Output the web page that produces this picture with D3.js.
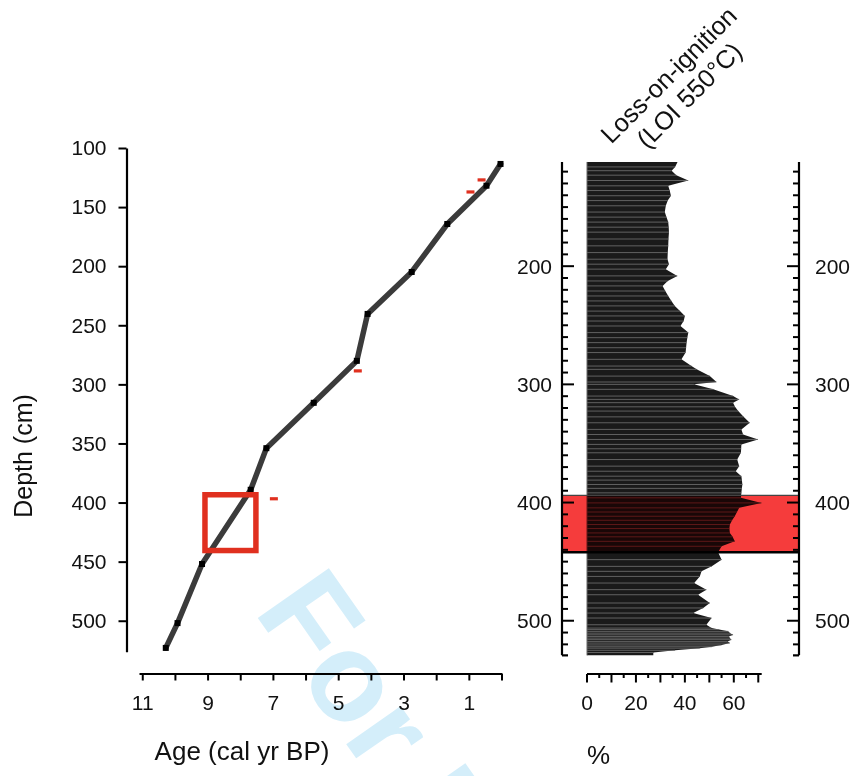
<!DOCTYPE html>
<html><head><meta charset="utf-8">
<script src="https://cdn.jsdelivr.net/npm/d3@7"></script>
<style>
html,body{margin:0;padding:0;background:#fff;}
svg{display:block;font-family:"Liberation Sans",Arial,Helvetica,sans-serif;}
</style>
</head><body>
<svg id="c" width="859" height="776"></svg>
<script>
// ---------- DATA ----------
// Age-depth model (control points)
const ageKyr   = [0.03, 0.46, 1.66, 2.75, 4.10, 4.43, 5.75, 7.20, 7.68, 9.17, 9.92, 10.28];
const ageDepth = [113.5, 131.9, 164.3, 204.9, 240.4, 280.1, 315.6, 354.0, 389.2, 452.0, 502.0, 523.0];
// Red dashes (rejected / outlier dates)
const redDashAge   = [0.61, 0.95, 4.40, 6.97];
const redDashDepth = [127.0, 137.2, 288.6, 396.8];
// Highlighted box (age range, depth range)
const boxAge   = [9.08, 7.52];
const boxDepth = [393.4, 440.6];
// Loss-on-ignition profile
const loiDepth = [111.8,116,119.2,123,127.5,132,136,140.4,144.5,148.9,154.2,158.5,162.7,167,171.2,177,182.8,188.5,194.1,198.3,
  202.5,208.2,212.5,216.7,221,225.2,229.4,233.6,238,242.1,246.4,250.6,256.2,260.5,264.7,269,273.1,278.8,284.5,287.3,
  293,298,300,304.2,309.9,312.7,315.5,319,322.6,327.5,332.5,338.1,342.4,346.6,350.8,354.5,357.9,363.6,369.2,373.5,
  377.7,381,384.7,388,391.8,396,400.3,404.5,408,411.6,415,418.6,422,425.7,429,432.8,437,442.1,448.3,454,
  458.2,462.5,468.1,473.7,478,485,489.2,493.5,497.7,503.4,506.2,507.5,509,510.5,511.9,513.3,514.7,516,517.5,518.9,
  520.5,522,523.2,525,526.9,529.3];
const loiValue = [37.0,36.0,34.6,36.5,41.4,33.2,33.8,34.3,33.0,32.2,31.8,32.5,33.2,33.4,33.5,33.3,33.2,33.0,32.9,33.5,
  32.2,36.9,33.0,30.9,32.0,33.2,34.5,35.9,38.0,40.0,39.5,38.2,41.4,41.0,40.7,40.5,40.3,38.6,42.7,44.8,
  50.2,52.9,43.7,51.6,59.7,62.2,59.7,60.5,61.8,64.0,66.5,63.1,63.8,69.9,63.1,63.0,62.9,61.4,62.2,60.8,
  63.1,63.3,63.5,63.3,63.1,62.9,71.3,62.2,61.3,60.4,59.3,58.4,58.2,58.4,59.5,60.4,55.0,53.6,55.0,51.0,
  46.8,46.1,43.8,48.8,45.4,50.2,47.5,43.4,50.9,48.8,50.9,54.0,57.7,58.5,59.7,58.0,58.4,59.0,57.5,58.4,
  55.0,51.0,46.1,36.0,27.1,27.1];
const bandDepth = [394, 442];
// Tick values / labels
const depthTicksLeft   = [100,150,200,250,300,350,400,450,500];
const ageTicks         = [0,1,2,3,4,5,6,7,8,9,10,11];
const ageLabels        = [11,9,7,5,3,1];
const loiTicks         = [0,5,10,15,20,25,30,35,40,45,50,55,60,65,70];
const loiLabels        = [0,20,40,60];
const depthTicksRight  = d3.range(120, 530, 10);
const depthLabelsRight = [200,300,400,500];

// ---------- LAYOUT ----------
const FONT = '"Liberation Sans",Arial,Helvetica,sans-serif';
const leftAxisX = 126.5, ageAxisY = 673.5;
const rpLeft = 562, rpRight = 799, loiAxisY = 674;
const redStroke = "#e0301f";

const svg = d3.select("#c");

const y = d3.scaleLinear().domain([100, 526.2]).range([148, 651.7]);
const xAge = d3.scaleLinear().domain([11.1, 0]).range([139, 501.5]);
const xLoi = d3.scaleLinear().domain([0, 71.4]).range([587, 761.7]);

// ---------- WATERMARK ----------
svg.append("text")
  .attr("transform", "translate(253,611) rotate(55)")
  .attr("font-family", FONT).attr("font-weight", "bold").attr("font-size", 126)
  .attr("fill", "#d4eefa")
  .text("For Review");

// ---------- LEFT PANEL ----------
const gY = svg.append("g").attr("transform", `translate(${leftAxisX},0)`)
  .call(d3.axisLeft(y).tickValues(depthTicksLeft).tickSize(8).tickSizeOuter(0).tickPadding(12));
gY.select(".domain").attr("stroke", "#000").attr("stroke-width", 2.2);
gY.selectAll(".tick line").attr("stroke", "#000").attr("stroke-width", 2);
gY.selectAll(".tick text").attr("font-size", 21).attr("font-family", FONT).attr("fill", "#111");

const gX = svg.append("g").attr("transform", `translate(0,${ageAxisY})`)
  .call(d3.axisBottom(xAge).tickValues(ageTicks).tickSize(7).tickSizeOuter(0).tickPadding(14.5)
    .tickFormat(d => ageLabels.includes(d) ? d : ""));
gX.select(".domain").attr("stroke", "#000").attr("stroke-width", 2.2);
gX.selectAll(".tick line").attr("stroke", "#000").attr("stroke-width", 2);
gX.selectAll(".tick text").attr("font-size", 21).attr("font-family", FONT).attr("fill", "#111");

const pts = ageKyr.map((a, i) => [a, ageDepth[i]]);
svg.append("path").datum(pts)
  .attr("d", d3.line().x(d => xAge(d[0])).y(d => y(d[1])))
  .attr("fill", "none").attr("stroke", "#3b3b3b").attr("stroke-width", 5.5)
  .attr("stroke-linejoin", "round").attr("stroke-linecap", "round");
svg.selectAll("rect.mk").data(pts).join("rect").attr("class", "mk")
  .attr("x", d => xAge(d[0]) - 3).attr("y", d => y(d[1]) - 3)
  .attr("width", 6).attr("height", 6).attr("fill", "#000");

svg.selectAll("rect.rd").data(redDashAge.map((a, i) => [a, redDashDepth[i]])).join("rect").attr("class", "rd")
  .attr("x", d => xAge(d[0]) - 4).attr("y", d => y(d[1]) - 1.6)
  .attr("width", 8).attr("height", 3.2).attr("fill", redStroke);

svg.append("rect")
  .attr("x", xAge(boxAge[0])).attr("y", y(boxDepth[0]))
  .attr("width", xAge(boxAge[1]) - xAge(boxAge[0])).attr("height", y(boxDepth[1]) - y(boxDepth[0]))
  .attr("fill", "none").attr("stroke", redStroke).attr("stroke-width", 5.5);

svg.append("text").attr("transform", `translate(32,456) rotate(-90)`)
  .attr("text-anchor", "middle").attr("font-family", FONT).attr("font-size", 25).attr("fill", "#111")
  .text("Depth (cm)");
svg.append("text").attr("x", 242).attr("y", 760)
  .attr("text-anchor", "middle").attr("font-family", FONT).attr("font-size", 26).attr("fill", "#111")
  .text("Age (cal yr BP)");

// ---------- RIGHT PANEL ----------
const loi = loiDepth.map((d, i) => ({d, v: loiValue[i]}));
svg.append("path").datum(loi)
  .attr("d", d3.area().y(p => y(p.d)).x0(xLoi(0)).x1(p => xLoi(p.v)))
  .attr("fill", "#1a1a1a");
svg.selectAll("line.bar").data(loi.slice(1, -1)).join("line").attr("class", "bar")
  .attr("x1", xLoi(0)).attr("x2", p => xLoi(p.v))
  .attr("y1", p => y(p.d)).attr("y2", p => y(p.d))
  .attr("stroke", "#6a6a6a").attr("stroke-width", 0.9);
svg.append("line")
  .attr("x1", xLoi(0)).attr("x2", xLoi(0))
  .attr("y1", y(loiDepth[0])).attr("y2", y(loiDepth[loiDepth.length - 1]))
  .attr("stroke", "#666").attr("stroke-width", 1);

svg.append("rect")
  .attr("x", rpLeft).attr("width", rpRight - rpLeft)
  .attr("y", y(bandDepth[0])).attr("height", y(bandDepth[1]) - y(bandDepth[0]))
  .attr("fill", "#f53c3c").style("mix-blend-mode", "multiply");
svg.append("line").attr("x1", rpLeft).attr("x2", rpRight)
  .attr("y1", y(bandDepth[0])).attr("y2", y(bandDepth[0]))
  .attr("stroke", "#444").attr("stroke-width", 1.2);
svg.append("line").attr("x1", rpLeft).attr("x2", rpRight)
  .attr("y1", y(bandDepth[1])).attr("y2", y(bandDepth[1]))
  .attr("stroke", "#000").attr("stroke-width", 2.5);

const yTop = y(loiDepth[0]), yBot = y(loiDepth[loiDepth.length - 1]);
[[rpLeft, 1], [rpRight, -1]].forEach(([ax, dir]) => {
  const g = svg.append("g");
  g.append("line").attr("x1", ax).attr("x2", ax).attr("y1", yTop).attr("y2", yBot)
    .attr("stroke", "#000").attr("stroke-width", 2.2);
  g.append("line").attr("x1", ax).attr("x2", ax + dir * 6).attr("y1", yBot).attr("y2", yBot)
    .attr("stroke", "#000").attr("stroke-width", 2.2);
  g.selectAll("line.t").data(depthTicksRight).join("line").attr("class", "t")
    .attr("x1", ax).attr("x2", d => ax + dir * (d % 100 === 0 ? 12 : 6))
    .attr("y1", d => y(d)).attr("y2", d => y(d))
    .attr("stroke", "#000").attr("stroke-width", 2);
  g.selectAll("text").data(depthLabelsRight).join("text")
    .attr("x", dir > 0 ? 552 : 815).attr("y", d => y(d)).attr("dy", "0.35em")
    .attr("text-anchor", dir > 0 ? "end" : "start")
    .attr("font-family", FONT).attr("font-size", 21).attr("fill", "#111")
    .text(d => d);
});

const gL = svg.append("g");
gL.append("line").attr("x1", xLoi(0)).attr("x2", xLoi(71.4)).attr("y1", loiAxisY).attr("y2", loiAxisY)
  .attr("stroke", "#000").attr("stroke-width", 2.2);
gL.selectAll("line.t").data(loiTicks).join("line").attr("class", "t")
  .attr("x1", d => xLoi(d)).attr("x2", d => xLoi(d))
  .attr("y1", loiAxisY).attr("y2", d => loiAxisY + (d % 10 === 0 ? 8.5 : 4))
  .attr("stroke", "#000").attr("stroke-width", 2);
gL.selectAll("text").data(loiLabels).join("text")
  .attr("x", d => xLoi(d)).attr("y", loiAxisY + 29).attr("dy", "0.35em")
  .attr("text-anchor", "middle").attr("font-family", FONT).attr("font-size", 21).attr("fill", "#111")
  .text(d => d);
svg.append("text").attr("x", 587).attr("y", 764)
  .attr("font-family", FONT).attr("font-size", 26).attr("fill", "#111").text("%");

// LOI title
const t = svg.append("text").attr("transform", "translate(675,81) rotate(-45)")
  .attr("text-anchor", "middle").attr("font-family", FONT).attr("font-size", 25.5).attr("fill", "#111");
t.append("tspan").attr("x", 0).attr("y", 0).text("Loss-on-ignition");
t.append("tspan").attr("x", 0).attr("y", 29).text("(LOI 550°C)");
</script>
</body></html>
